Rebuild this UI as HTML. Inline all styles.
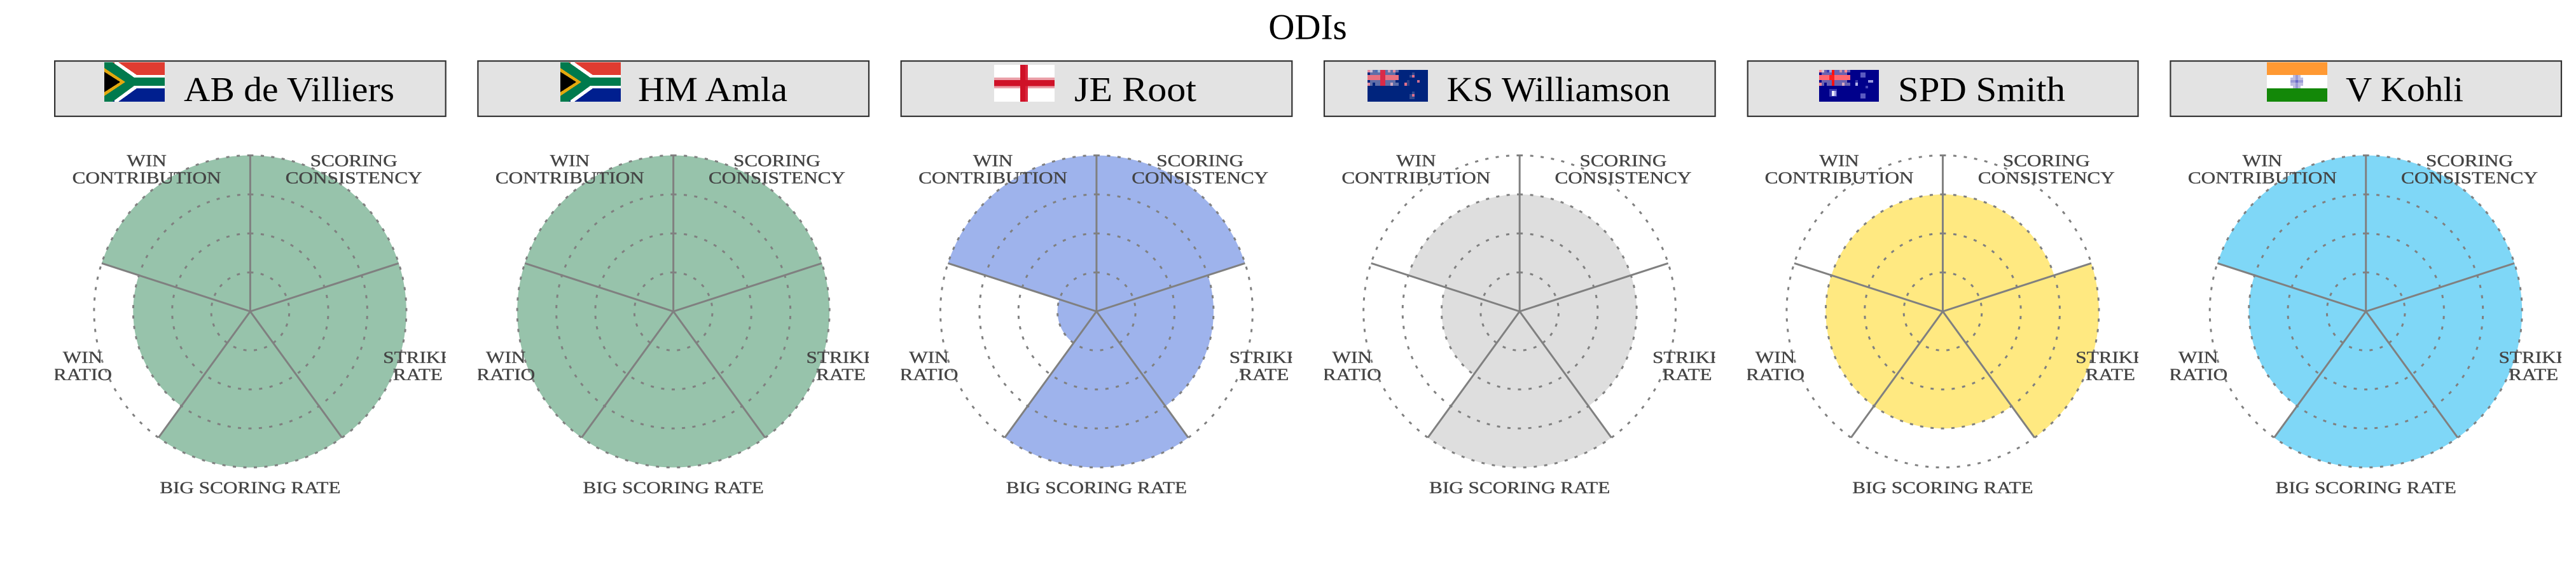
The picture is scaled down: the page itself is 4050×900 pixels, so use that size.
<!DOCTYPE html>
<html lang="en">
<head>
<meta charset="utf-8">
<title>ODIs</title>
<style>
html,body{margin:0;padding:0;background:#fff;}
body{width:4050px;height:900px;overflow:hidden;}
svg{display:block;font-family:"Liberation Serif",serif;}
.box{fill:#e3e3e3;stroke:#333;stroke-width:2.2;}
.name{font-size:55px;fill:#000;}
.axis-label{font-size:26px;fill:#444;stroke:#444;stroke-width:0.35;text-anchor:middle;}
.flag{shape-rendering:crispEdges;}
</style>
</head>
<body>
<svg id="figure" width="4050" height="900" viewBox="0 0 4050 900" xmlns="http://www.w3.org/2000/svg">
  <rect width="4050" height="900" fill="#fff"/>
  <text x="2056" y="61.5" font-size="57" text-anchor="middle">ODIs</text>

  <g>
    <rect class="box" x="86.1" y="96" width="614.6" height="87"/>
    <svg class="flag" x="164" y="98" width="95" height="62" viewBox="0 0 95 62">
      <rect width="95" height="62" fill="#fff"/>
      <rect width="95" height="20" fill="#e03c31"/>
      <rect y="41" width="95" height="21" fill="#001f8f"/>
      <polygon points="16,0 22,0 51,20 95,20 95,41 51,41 22,62 16,62" fill="#fff"/>
      <polygon points="0,0 13,0 47,24 95,24 95,37 47,37 13,62 0,62" fill="#007a4d"/>
      <polygon points="0,9 33,31 0,53" fill="#e2a80f"/>
      <polygon points="0,15 25,31 0,47" fill="#000"/>
    </svg>
    <text class="name" x="289" y="159" textLength="331" lengthAdjust="spacingAndGlyphs">AB de Villiers</text>
  </g>

  <g>
    <rect class="box" x="751.4" y="96" width="614.6" height="87"/>
    <svg class="flag" x="881" y="98" width="95" height="62" viewBox="0 0 95 62">
      <rect width="95" height="62" fill="#fff"/>
      <rect width="95" height="20" fill="#e03c31"/>
      <rect y="41" width="95" height="21" fill="#001f8f"/>
      <polygon points="16,0 22,0 51,20 95,20 95,41 51,41 22,62 16,62" fill="#fff"/>
      <polygon points="0,0 13,0 47,24 95,24 95,37 47,37 13,62 0,62" fill="#007a4d"/>
      <polygon points="0,9 33,31 0,53" fill="#e2a80f"/>
      <polygon points="0,15 25,31 0,47" fill="#000"/>
    </svg>
    <text class="name" x="1003" y="159" textLength="235" lengthAdjust="spacingAndGlyphs">HM Amla</text>
  </g>

  <g>
    <rect class="box" x="1416.7" y="96" width="614.6" height="87"/>
    <svg class="flag" x="1563" y="102" width="95" height="58" viewBox="0 0 95 58">
      <rect width="95" height="58" fill="#fff"/>
      <rect y="20" width="95" height="17" fill="#eba0a9"/>
      <rect x="41" width="12" height="58" fill="#d9253d"/>
      <rect y="24" width="95" height="9.5" fill="#cf1127"/>
      <rect x="41" width="8" height="58" fill="#cf1127"/>
    </svg>
    <text class="name" x="1689" y="159" textLength="192" lengthAdjust="spacingAndGlyphs">JE Root</text>
  </g>

  <g>
    <rect class="box" x="2082" y="96" width="614.6" height="87"/>
    <svg class="flag" x="2150" y="110" width="95" height="50" viewBox="0 0 95 50">
      <rect width="95" height="50" fill="#00247d"/>
      <rect width="49" height="25" fill="#5f6ea8"/>
      <rect x="0" y="0" width="4" height="4" fill="#e08aa0"/><rect x="4" y="0" width="4" height="4" fill="#c8bcd4"/><rect x="12" y="0" width="4" height="4" fill="#4a6db0"/><rect x="16" y="0" width="4" height="4" fill="#9db0d0"/><rect x="32" y="0" width="4" height="4" fill="#c8a0b8"/><rect x="40" y="0" width="4" height="4" fill="#e08aa0"/>
      <rect y="4" width="4" height="4" fill="#00247d"/><rect x="20" y="4" width="4" height="4" fill="#d8a0b0"/><rect x="44" y="4" width="5" height="4" fill="#00247d"/>
      <rect y="8" width="49" height="8" fill="#e8707f"/>
      <rect y="16" width="4" height="4" fill="#00247d"/><rect x="44" y="16" width="5" height="4" fill="#00247d"/>
      <rect y="20" width="4" height="5" fill="#e08aa0"/><rect x="8" y="20" width="4" height="5" fill="#00247d"/><rect x="36" y="20" width="4" height="5" fill="#d0a8c0"/>
      <rect x="20" width="8" height="25" fill="#d92b48"/>
      <rect x="66" y="8" width="4" height="4" fill="#304a90"/><rect x="70" y="4" width="4" height="4" fill="#304a90"/><rect x="70" y="8" width="4" height="4" fill="#e0708a"/>
      <rect x="78" y="16" width="4" height="4" fill="#d07090"/>
      <rect x="58" y="20" width="4" height="5" fill="#e0708a"/><rect x="62" y="16" width="4" height="9" fill="#2a4088"/>
      <rect x="70" y="38" width="4" height="4" fill="#e0708a"/><rect x="66" y="38" width="4" height="8" fill="#304a90"/><rect x="70" y="34" width="4" height="4" fill="#304a90"/><rect x="70" y="42" width="4" height="4" fill="#304a90"/>
    </svg>
    <text class="name" x="2274.5" y="159" textLength="351.5" lengthAdjust="spacingAndGlyphs">KS Williamson</text>
  </g>

  <g>
    <rect class="box" x="2747.7" y="96" width="613.8" height="87"/>
    <svg class="flag" x="2860" y="110" width="94" height="50" viewBox="0 0 94 50">
      <rect width="94" height="50" fill="#00008b"/>
      <rect width="49" height="25" fill="#6a62b0"/>
      <rect x="0" y="0" width="4" height="4" fill="#ff8a94"/><rect x="4" y="0" width="4" height="4" fill="#d8c0d0"/><rect x="12" y="0" width="4" height="4" fill="#3a3ab0"/><rect x="16" y="0" width="4" height="4" fill="#a0a0d8"/><rect x="32" y="0" width="4" height="4" fill="#c890a8"/><rect x="40" y="0" width="4" height="4" fill="#ff8a94"/>
      <rect y="4" width="4" height="4" fill="#00008b"/><rect x="44" y="4" width="5" height="4" fill="#00008b"/>
      <rect y="8" width="49" height="8" fill="#ff6670"/>
      <rect y="16" width="4" height="4" fill="#00008b"/><rect x="44" y="16" width="5" height="4" fill="#00008b"/>
      <rect y="20" width="4" height="5" fill="#ff8a94"/><rect x="8" y="20" width="4" height="5" fill="#00008b"/><rect x="36" y="20" width="4" height="5" fill="#d8a8c0"/>
      <rect x="20" y="0" width="4" height="25" fill="#ff1010"/><rect x="16" y="8" width="8" height="8" fill="#ff2020"/>
      <rect x="65" y="4" width="8" height="8" fill="#5a5ac0"/>
      <rect x="57" y="16" width="4" height="9" fill="#3a3aa8"/><rect x="57" y="20" width="4" height="5" fill="#b0b0e8"/>
      <rect x="77" y="16" width="8" height="4" fill="#9a9ae0"/>
      <rect x="73" y="25" width="4" height="4" fill="#4a4ab8"/>
      <rect x="16" y="30" width="12" height="12" fill="#3a3ab0"/><rect x="20" y="33" width="4" height="8" fill="#e8e8fa"/><rect x="24" y="33" width="3" height="8" fill="#9a9ae0"/>
      <rect x="65" y="37" width="8" height="8" fill="#5a5ac0"/>
    </svg>
    <text class="name" x="2984" y="159" textLength="263" lengthAdjust="spacingAndGlyphs">SPD Smith</text>
  </g>

  <g>
    <rect class="box" x="3412.4" y="96" width="614.6" height="87"/>
    <svg class="flag" x="3564" y="98" width="95" height="62" viewBox="0 0 95 62">
      <rect width="95" height="20" fill="#ff9933"/>
      <rect y="20" width="95" height="21" fill="#fff"/>
      <rect y="41" width="95" height="21" fill="#138808"/>
      <rect x="37" y="24" width="20" height="13" fill="#bdbde0"/>
      <rect x="41" y="20" width="12" height="21" fill="#bdbde0"/>
      <rect x="45" y="20" width="4" height="21" fill="#9a9ad6"/>
      <rect x="37" y="28" width="20" height="4" fill="#9a9ad6"/>
      <rect x="45" y="28" width="4" height="4" fill="#6a6ac8"/>
    </svg>
    <text class="name" x="3688" y="159" textLength="185" lengthAdjust="spacingAndGlyphs">V Kohli</text>
  </g>
</svg>

<script>
// Chart data: categories clockwise from the top, then one value array per player (0-1 scale).
var metricLabels = [
  ["SCORING", "CONSISTENCY"],
  ["STRIKE", "RATE"],
  ["BIG SCORING RATE"],
  ["WIN", "RATIO"],
  ["WIN", "CONTRIBUTION"]
];
var playerKeys = ["ab-de-villiers", "hm-amla", "je-root", "ks-williamson", "spd-smith", "v-kohli"];
var abDeVilliers = [1, 1, 1, 0.75, 1];
var hmAmla = [1, 1, 1, 1, 1];
var jeRoot = [1, 0.75, 1, 0.25, 1];
var ksWilliamson = [0.75, 0.75, 1, 0.5, 0.75];
var spdSmith = [0.75, 1, 0.75, 0.75, 0.75];
var vKohli = [1, 1, 1, 0.75, 1];
var playerValues = [abDeVilliers, hmAmla, jeRoot, ksWilliamson, spdSmith, vKohli];
var playerColors = ["#97c3ab", "#97c3ab", "#9eb3ec", "#dedede", "#ffe981", "#7fd7f7"];
var ringLevels = [0.25, 0.5, 0.75, 1];

var NS = "http://www.w3.org/2000/svg";
var figure = document.getElementById("figure");
var firstCenter = 393.4, panelStep = 665.26, centerY = 490, outerRadius = 245.5, halfPanel = 307.3;

function rScale(v) { return v * outerRadius; }
function polar(cx, cy, r, theta) {
  return [cx + r * Math.sin(theta), cy - r * Math.cos(theta)];
}
function angleOf(i) { return i * 2 * Math.PI / metricLabels.length; }

var defs = document.createElementNS(NS, "defs");
figure.appendChild(defs);

playerKeys.forEach(function (key, p) {
  var cx = firstCenter + p * panelStep;

  var clip = document.createElementNS(NS, "clipPath");
  clip.setAttribute("id", "clip-" + key);
  var clipRect = document.createElementNS(NS, "rect");
  clipRect.setAttribute("x", cx - halfPanel);
  clipRect.setAttribute("y", 0);
  clipRect.setAttribute("width", halfPanel * 2);
  clipRect.setAttribute("height", 900);
  clip.appendChild(clipRect);
  defs.appendChild(clip);

  var g = document.createElementNS(NS, "g");
  
  
  figure.appendChild(g);

  playerValues[p].forEach(function (v, i) {
    var r = rScale(v);
    var a = polar(cx, centerY, r, angleOf(i));
    var b = polar(cx, centerY, r, angleOf(i + 1));
    var wedge = document.createElementNS(NS, "path");
    wedge.setAttribute("d", "M" + cx + " " + centerY + "L" + a[0] + " " + a[1] +
      "A" + r + " " + r + " 0 0 1 " + b[0] + " " + b[1] + "Z");
    wedge.setAttribute("fill", playerColors[p]);
    
    
    g.appendChild(wedge);
  });

  ringLevels.forEach(function (level) {
    var r = rScale(level);
    var circ = 2 * Math.PI * r;
    var dash = 5;
    var n = Math.round((circ - dash) / 16.5);
    var gap = (circ - dash) / n - dash;
    var top = polar(cx, centerY, r, 0);
    var bottom = polar(cx, centerY, r, Math.PI);
    var ring = document.createElementNS(NS, "path");
    ring.setAttribute("d", "M" + top[0] + " " + top[1] +
      "A" + r + " " + r + " 0 0 1 " + bottom[0] + " " + bottom[1] +
      "A" + r + " " + r + " 0 0 1 " + top[0] + " " + top[1]);
    ring.setAttribute("fill", "none");
    ring.setAttribute("stroke", "#808080");
    ring.setAttribute("stroke-width", "3");
    ring.setAttribute("stroke-dasharray", dash + " " + gap);
    
    
    g.appendChild(ring);
  });

  metricLabels.forEach(function (lines, i) {
    var end = polar(cx, centerY, rScale(1), angleOf(i));
    var spoke = document.createElementNS(NS, "line");
    spoke.setAttribute("x1", cx);
    spoke.setAttribute("y1", centerY);
    spoke.setAttribute("x2", end[0]);
    spoke.setAttribute("y2", end[1]);
    spoke.setAttribute("stroke", "#808080");
    spoke.setAttribute("stroke-width", "3");
    
    
    g.appendChild(spoke);
  });

  var labelGroup = document.createElementNS(NS, "g");
  labelGroup.setAttribute("clip-path", "url(#clip-" + key + ")");
  
  
  g.appendChild(labelGroup);

  metricLabels.forEach(function (lines, i) {
    var pos = polar(cx, centerY, 277, angleOf(i + 0.5));
    lines.forEach(function (line, k) {
      var t = document.createElementNS(NS, "text");
      t.setAttribute("class", "axis-label");
      t.setAttribute("x", pos[0]);
      t.setAttribute("y", pos[1] + 9 + (k - (lines.length - 1) / 2) * 27);
      
      
      t.textContent = line;
      labelGroup.appendChild(t);
      var len = t.getComputedTextLength();
      t.setAttribute("textLength", len * 1.2);
      t.setAttribute("lengthAdjust", "spacingAndGlyphs");
    });
  });
});
</script>
</body>
</html>
